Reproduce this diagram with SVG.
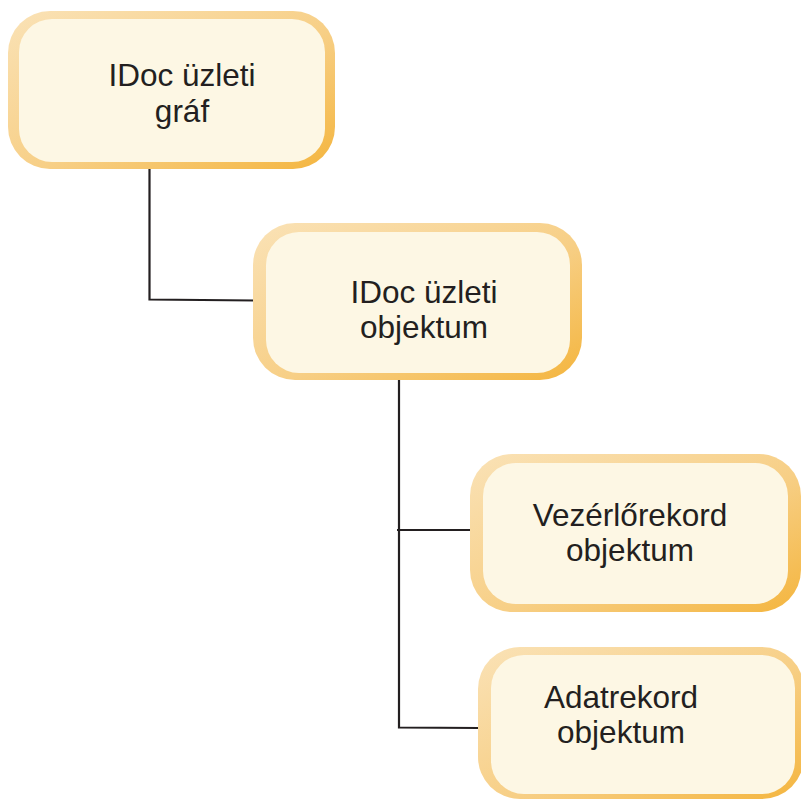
<svg xmlns="http://www.w3.org/2000/svg" width="801" height="801" viewBox="0 0 801 801">
<defs>
<linearGradient id="bg" x1="0" y1="0" x2="1" y2="1">
<stop offset="0" stop-color="#fae2b6"/>
<stop offset="0.55" stop-color="#f7cf86"/>
<stop offset="1" stop-color="#f4b53e"/>
</linearGradient>
<style>
.outer{fill:url(#bg);}
.inner{fill:#fdf7e4;}
.t{font-family:"Liberation Sans",Arial,sans-serif;font-size:31.5px;fill:#231f20;text-anchor:middle;}
.c{fill:none;stroke:#231f20;stroke-width:2.2;}
</style>
</defs>
<rect width="801" height="801" fill="#ffffff"/>
<g id="connectors">
<polyline class="c" points="149.5,169 149.5,299.5 255,300.5"/>
<polyline class="c" points="399,380 399,727.5 479,728"/>
<line class="c" x1="397" y1="530" x2="471" y2="530"/>
</g>
<g id="node-graf">
<rect class="outer" x="8" y="11" width="327" height="158" rx="42"/>
<rect class="inner" x="19" y="19" width="306" height="143" rx="33"/>
<text class="t" x="182" y="86">IDoc üzleti</text>
<text class="t" x="182" y="122">gráf</text>
</g>
<g id="node-objektum">
<rect class="outer" x="253" y="223" width="329" height="157" rx="42"/>
<rect class="inner" x="266" y="232" width="304" height="141" rx="33"/>
<text class="t" x="424" y="303">IDoc üzleti</text>
<text class="t" x="424" y="338">objektum</text>
</g>
<g id="node-vezerlo">
<rect class="outer" x="470" y="454" width="331" height="158" rx="42"/>
<rect class="inner" x="483" y="463" width="305" height="141" rx="33"/>
<text class="t" x="630" y="526">Vezérlőrekord</text>
<text class="t" x="630" y="561">objektum</text>
</g>
<g id="node-adat">
<rect class="outer" x="478" y="647" width="326" height="152" rx="42"/>
<rect class="inner" x="491" y="655" width="304" height="139" rx="33"/>
<text class="t" x="621" y="708">Adatrekord</text>
<text class="t" x="621" y="743">objektum</text>
</g>
</svg>
